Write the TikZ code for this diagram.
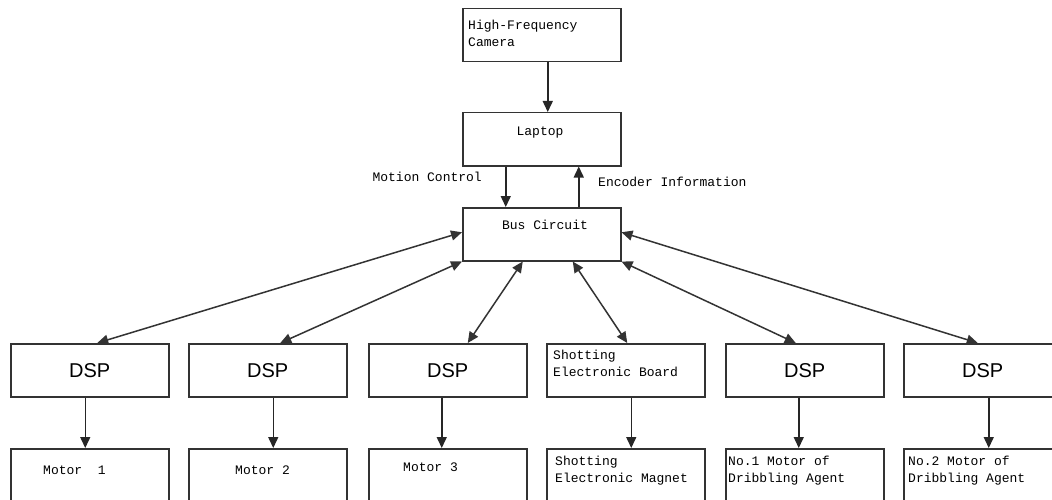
\documentclass[tikz,border=0pt]{standalone}
\usepackage{fontspec}
\setmainfont{Liberation Serif}
\newfontfamily\monof{Liberation Mono}
\newfontfamily\sansf{Liberation Sans}
\usetikzlibrary{arrows.meta}
\begin{document}
\begin{tikzpicture}[x=1pt,y=-1pt,
  box/.style={draw=black!80,line width=1.5pt,anchor=north west,minimum width=158pt,minimum height=53pt,inner sep=0pt},
  mbox/.style={box,minimum height=62pt},
  txt/.style={font=\monof\fontsize{13}{16.5}\selectfont,align=left,inner sep=0pt,anchor=west},
  dsptxt/.style={font=\sansf\fontsize{20}{22}\selectfont,inner sep=0pt},
  arr/.style={line width=1.5pt,draw=black!85,-{Triangle[length=11pt,width=10pt]}},
  darr/.style={line width=1.5pt,draw=black!80,{Triangle[length=11pt,width=10pt]}-{Triangle[length=11pt,width=10pt]}}]
\clip (0,0) rectangle (1052,500);
\fill[white] (0,0) rectangle (1052,500);
% top column
\node[box] (cam) at (462,8) {};
\node[box] (lap) at (462,112) {};
\node[box] (bus) at (462,207) {};
\node[txt,anchor=north west] (camT) at (468,20) {High-Frequency\\Camera};
\node[txt,anchor=center] (lapT) at (540,133) {Laptop};
\node[txt,anchor=center] (busT) at (545,225) {Bus Circuit};
% DSP row
\node[box] (d1) at (10,343) {};
\node[box] (d2) at (188,343) {};
\node[box] (d3) at (368,343) {};
\node[box] (d4) at (546,343) {};
\node[box] (d5) at (725,343) {};
\node[box] (d6) at (903,343) {};
\node[dsptxt] (d1T) at (d1.center) {DSP};
\node[dsptxt] (d2T) at (d2.center) {DSP};
\node[dsptxt] (d3T) at (d3.center) {DSP};
\node[txt,anchor=north west] (d4T) at (553,350) {Shotting\\Electronic Board};
\node[dsptxt] (d5T) at (d5.center) {DSP};
\node[dsptxt] (d6T) at (d6.center) {DSP};
% motor row
\node[mbox] (m1) at (10,448) {};
\node[mbox] (m2) at (188,448) {};
\node[mbox] (m3) at (368,448) {};
\node[mbox] (m4) at (546,448) {};
\node[mbox] (m5) at (725,448) {};
\node[mbox] (m6) at (903,448) {};
\node[txt] (m1T) at (43,470) {Motor\ \ 1};
\node[txt] (m2T) at (235,470) {Motor 2};
\node[txt] (m3T) at (403,467) {Motor 3};
\node[txt,anchor=north west] (m4T) at (555,456) {Shotting\\Electronic Magnet};
\node[txt,anchor=north west] (m5T) at (728,456) {No.1 Motor of\\Dribbling Agent};
\node[txt,anchor=north west] (m6T) at (908,456) {No.2 Motor of\\Dribbling Agent};
% labels
\node[txt,anchor=east] (mc) at (482,177) {Motion Control};
\node[txt,anchor=west] (ei) at (598,182) {Encoder Information};
% connectors
\draw[arr] ([xshift=6pt]cam.south) -- ([xshift=6pt]lap.north);
\draw[arr] ([xshift=-36pt]lap.south) -- ([xshift=-36pt]bus.north);
\draw[arr] ([xshift=37pt]bus.north) -- ([xshift=37pt]lap.south);
\draw[darr] ([yshift=2pt]bus.west) -- ([xshift=7.5pt]d1.north);
\draw[darr] (bus.south west) -- ([xshift=12.5pt]d2.north);
\draw[darr] ([xshift=-19pt]bus.south) -- ([xshift=20pt]d3.north);
\draw[darr] ([xshift=31pt]bus.south) -- ([xshift=1.5pt]d4.north);
\draw[darr] (bus.south east) -- ([xshift=-9pt]d5.north);
\draw[darr] ([yshift=2pt]bus.east) -- ([xshift=-5pt]d6.north);
\draw[arr] ([xshift=-4.5pt]d1.south) -- ([xshift=-4.5pt]m1.north);
\draw[arr] ([xshift=5.5pt]d2.south) -- ([xshift=5.5pt]m2.north);
\draw[arr] ([xshift=-6pt]d3.south) -- ([xshift=-6pt]m3.north);
\draw[arr] ([xshift=5.5pt]d4.south) -- ([xshift=5.5pt]m4.north);
\draw[arr] ([xshift=-6pt]d5.south) -- ([xshift=-6pt]m5.north);
\draw[arr] ([xshift=6pt]d6.south) -- ([xshift=6pt]m6.north);
\end{tikzpicture}
\end{document}
